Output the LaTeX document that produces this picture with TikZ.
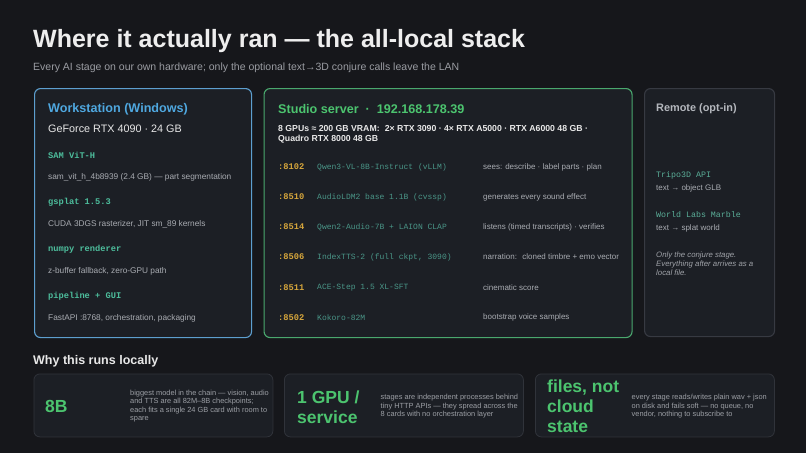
\documentclass[tikz,border=0pt]{standalone}
\usepackage{fontspec}
\setmainfont{Liberation Sans}
\setmonofont{Liberation Mono}
\definecolor{bg}{HTML}{16171B}
\definecolor{panelfill}{HTML}{1C1F25}
\definecolor{wsborder}{HTML}{5D9FCF}
\definecolor{stborder}{HTML}{4AA86E}
\definecolor{rmborder}{HTML}{373A42}
\definecolor{btborder}{HTML}{30333A}
\definecolor{titlecol}{HTML}{EEEEEE}
\definecolor{subcol}{HTML}{9A9CA2}
\definecolor{wsblue}{HTML}{4FA8E0}
\definecolor{stgreen}{HTML}{4CC46F}
\definecolor{whitetxt}{HTML}{E8E8E8}
\definecolor{monoteal}{HTML}{4DBD9C}
\definecolor{desccol}{HTML}{A9ACB2}
\definecolor{portamber}{HTML}{D6A63C}
\definecolor{modelteal}{HTML}{4A9688}
\definecolor{rmhead}{HTML}{B4B7BD}
\definecolor{rmmono}{HTML}{5AAE98}
\definecolor{italcol}{HTML}{A0A3A9}
\definecolor{btdesc}{HTML}{9C9FA5}
\begin{document}
\begin{tikzpicture}[x=1pt,y=-1pt,
  panel/.style={draw, rounded corners=6pt, fill=panelfill, line width=1.1pt, anchor=north west, inner sep=0pt},
  txt/.style={anchor=west, inner sep=0pt, align=left},
  head/.style={txt, font=\fontsize{12.6}{15}\selectfont\bfseries},
  wsmono/.style={txt, text=monoteal, font=\fontsize{8.7}{10}\selectfont\ttfamily\bfseries},
  desc/.style={txt, text=desccol, font=\fontsize{8.3}{10}\selectfont},
  port/.style={txt, text=portamber, font=\fontsize{8.7}{10}\selectfont\ttfamily\bfseries},
  model/.style={txt, text=modelteal, font=\fontsize{8}{10}\selectfont\ttfamily},
  sdesc/.style={txt, text=desccol, font=\fontsize{8}{10}\selectfont},
  big/.style={txt, text=stgreen, font=\fontsize{17.5}{20}\selectfont\bfseries},
  bdesc/.style={txt, text=btdesc, font=\fontsize{7.4}{8.5}\selectfont}
]
\fill[bg] (0,0) rectangle (806,453);
\useasboundingbox (0,0) rectangle (806,453);

% title
\node[anchor=base west, inner sep=0pt, text=titlecol, font=\fontsize{25}{30}\selectfont\bfseries] (title) at (33,47) {Where it actually ran — the all-local stack};
\node[txt, text=subcol, font=\fontsize{10.5}{12}\selectfont] (subtitle) at (33,67.5) {Every AI stage on our own hardware; only the optional text→3D conjure calls leave the LAN};

% panels
\node[panel, draw=wsborder, minimum width=217pt, minimum height=249pt] (ws) at (34,88) {};
\node[panel, draw=stborder, minimum width=368pt, minimum height=249pt] (st) at (263.5,88) {};
\node[panel, draw=rmborder, minimum width=130pt, minimum height=248pt] (rm) at (644,88) {};

% workstation
\node[head, text=wsblue] (wsh) at (48,109) {Workstation (Windows)};
\node[txt, text=whitetxt, font=\fontsize{10.8}{13}\selectfont] (wsg) at (48,128.5) {GeForce RTX 4090 · 24 GB};
\node[wsmono] (w1) at (48,155) {SAM ViT-H};
\node[desc] (w1d) at (48,177) {sam\_vit\_h\_4b8939 (2.4 GB) — part segmentation};
\node[wsmono] (w2) at (48,202) {gsplat 1.5.3};
\node[desc] (w2d) at (48,224) {CUDA 3DGS rasterizer, JIT sm\_89 kernels};
\node[wsmono] (w3) at (48,249) {numpy renderer};
\node[desc] (w3d) at (48,271) {z-buffer fallback, zero-GPU path};
\node[wsmono] (w4) at (48,296) {pipeline + GUI};
\node[desc] (w4d) at (48,318) {FastAPI :8768, orchestration, packaging};

% studio
\node[head, text=stgreen] (sth) at (278,109) {Studio server\hspace{0.55em}·\hspace{0.55em}192.168.178.39};
\node[txt, text=whitetxt, font=\fontsize{8.7}{10.3}\selectfont\bfseries] (stg) at (278,134.5) {8 GPUs ≈ 200 GB VRAM:\hspace{0.6em}2× RTX 3090 · 4× RTX A5000 · RTX A6000 48 GB ·\\Quadro RTX 8000 48 GB};
\node[port] (p1) at (278,167) {:8102};
\node[model] (m1) at (317,167) {Qwen3-VL-8B-Instruct (vLLM)};
\node[sdesc] (d1) at (483,167) {sees: describe · label parts · plan};
\node[port] (p2) at (278,197) {:8510};
\node[model] (m2) at (317,197) {AudioLDM2 base 1.1B (cvssp)};
\node[sdesc] (d2) at (483,197) {generates every sound effect};
\node[port] (p3) at (278,227) {:8514};
\node[model] (m3) at (317,227) {Qwen2-Audio-7B + LAION CLAP};
\node[sdesc] (d3) at (483,227) {listens (timed transcripts) · verifies};
\node[port] (p4) at (278,257) {:8506};
\node[model] (m4) at (317,257) {IndexTTS-2 (full ckpt, 3090)};
\node[sdesc] (d4) at (483,257) {narration:\hspace{0.3em} cloned timbre + emo vector};
\node[port] (p5) at (278,287.5) {:8511};
\node[model] (m5) at (317,287.5) {ACE-Step 1.5 XL-SFT};
\node[sdesc] (d5) at (483,287.5) {cinematic score};
\node[port] (p6) at (278,317.5) {:8502};
\node[model] (m6) at (317,317.5) {Kokoro-82M};
\node[sdesc] (d6) at (483,317.5) {bootstrap voice samples};

% remote
\node[txt, text=rmhead, font=\fontsize{10.9}{13}\selectfont\bfseries] (rmh) at (656,109) {Remote (opt-in)};
\node[txt, text=rmmono, font=\fontsize{8.3}{10}\selectfont\ttfamily] (r1) at (656,175) {Tripo3D API};
\node[txt, text=desccol, font=\fontsize{8}{10}\selectfont] (r1d) at (656,188) {text → object GLB};
\node[txt, text=rmmono, font=\fontsize{8.3}{10}\selectfont\ttfamily] (r2) at (656,215) {World Labs Marble};
\node[txt, text=desccol, font=\fontsize{8}{10}\selectfont] (r2d) at (656,228) {text → splat world};
\node[txt, text=italcol, font=\fontsize{7.8}{9.3}\selectfont\itshape] (r3) at (656,263.8) {Only the conjure stage.\\Everything after arrives as a\\local file.};

% bottom
\node[txt, text=whitetxt, font=\fontsize{12.5}{15}\selectfont\bfseries] (why) at (33,361.5) {Why this runs locally};
\node[panel, draw=btborder, line width=0.8pt, minimum width=239pt, minimum height=63pt] (b1) at (33.5,373.5) {};
\node[panel, draw=btborder, line width=0.8pt, minimum width=239pt, minimum height=63pt] (b2) at (284,373.5) {};
\node[panel, draw=btborder, line width=0.8pt, minimum width=239pt, minimum height=63pt] (b3) at (535,373.5) {};

\node[big] (b1t) at (45,406) {8B};
\node[bdesc] (b1d) at (130,406) {biggest model in the chain — vision, audio\\and TTS are all 82M–8B checkpoints;\\each fits a single 24 GB card with room to\\spare};
\node[big] (b2t) at (297,407) {1 GPU /\\service};
\node[bdesc] (b2d) at (380.5,406.2) {stages are independent processes behind\\tiny HTTP APIs — they spread across the\\8 cards with no orchestration layer};
\node[big] (b3t) at (547,406.5) {files, not\\cloud\\state};
\node[bdesc] (b3d) at (631.5,406.2) {every stage reads/writes plain wav + json\\on disk and fails soft — no queue, no\\vendor, nothing to subscribe to};
\end{tikzpicture}
\end{document}
